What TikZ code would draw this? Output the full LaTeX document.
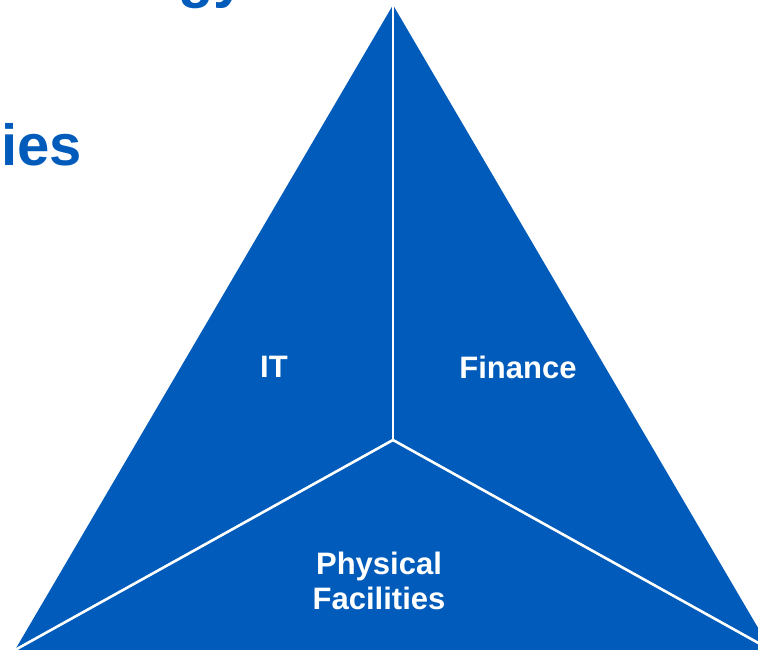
\documentclass[tikz,border=0pt]{standalone}
\usepackage{fontspec}
\setmainfont{Liberation Sans}
\definecolor{triblue}{RGB}{0,91,187}
\begin{document}
\begin{tikzpicture}[x=1pt,y=-1pt,
  sector/.style={draw=white,line width=2.6pt},
  lbl/.style={text=white,font=\fontsize{31}{35}\selectfont\bfseries,align=center,inner sep=0pt},
  title/.style={text=triblue,font=\fontsize{58}{64}\selectfont\bfseries,inner sep=0pt}]
\useasboundingbox (0,0) rectangle (758,650);
\clip (0,0) rectangle (758,650);
\fill[white] (0,0) rectangle (758,650);
\coordinate (apex) at (393,5);
\coordinate (bl) at (15,650);
\coordinate (br) at (771,650);
\coordinate (ctr) at (393,440);
\fill[triblue] (apex) -- (br) -- (bl) -- cycle;
\draw[sector] (ctr) -- (apex);
\draw[sector] (ctr) -- (bl);
\draw[sector] (ctr) -- (br);
\node[lbl] (it) at (274,367) {IT};
\node[lbl] (fin) at (518,367) {Finance};
\node[lbl,anchor=base] (phys) at (379,609) {Physical\\Facilities};
\node[title,anchor=base east] (t2) at (82,165) {ies};
\node[title,anchor=base west] (t1) at (178,-3) {gy};
\end{tikzpicture}
\end{document}
